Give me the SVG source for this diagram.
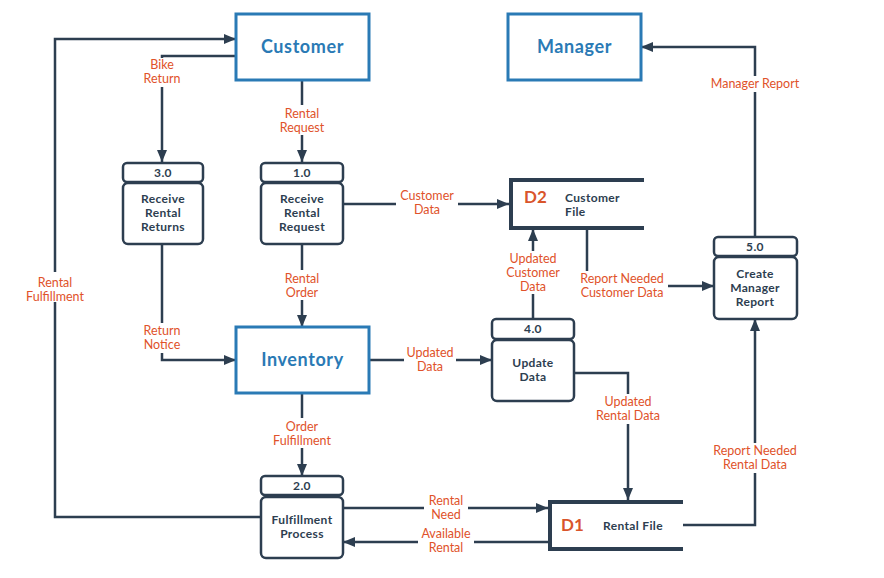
<svg xmlns="http://www.w3.org/2000/svg" width="884" height="578" viewBox="0 0 884 578">
<defs>
<marker id="arr" viewBox="0 0 12 10" refX="12" refY="5" markerWidth="12" markerHeight="10" markerUnits="userSpaceOnUse" orient="auto">
<path d="M0,0 L12,5 L0,10 Z" fill="#2d3e50"/>
</marker>
<style>
.ent{fill:#fff;stroke:#2a7ab5;stroke-width:3}
.entt{font-family:Lato,"Open Sans",sans-serif;font-weight:bold;font-size:18px;letter-spacing:0.6px;fill:#2a7ab5;text-anchor:middle}
.proc{fill:#fff;stroke:#2d3e50;stroke-width:2.5}
.pt{font-family:Lato,"Open Sans",sans-serif;font-weight:bold;font-size:12px;letter-spacing:0.35px;fill:#2d3e50;text-anchor:middle}
.st{fill:none;stroke:#2d3e50;stroke-width:4}
.sid{font-family:Lato,"Open Sans",sans-serif;font-weight:bold;font-size:17px;fill:#d9552b}
.ln{fill:none;stroke:#2d3e50;stroke-width:2.5}
.lb{font-family:Lato,"Open Sans",sans-serif;font-size:12.5px;fill:#e0522a;text-anchor:middle}
.bg{fill:#fff}
</style>
</defs>
<rect width="884" height="578" fill="#fff"/>
<g id="connectors">
<path class="ln" d="M261,517 H55 V39 H236" marker-end="url(#arr)"/>
<path class="ln" d="M236,56 H162 V162" marker-end="url(#arr)"/>
<path class="ln" d="M302,80 V162" marker-end="url(#arr)"/>
<path class="ln" d="M343,204 H509" marker-end="url(#arr)"/>
<path class="ln" d="M302,245 V327" marker-end="url(#arr)"/>
<path class="ln" d="M162,245 V360 H236" marker-end="url(#arr)"/>
<path class="ln" d="M369,360 H492" marker-end="url(#arr)"/>
<path class="ln" d="M302,393 V476" marker-end="url(#arr)"/>
<path class="ln" d="M343,508 H548" marker-end="url(#arr)"/>
<path class="ln" d="M548,542 H343" marker-end="url(#arr)"/>
<path class="ln" d="M574,373 H628 V500" marker-end="url(#arr)"/>
<path class="ln" d="M533,319 V229" marker-end="url(#arr)"/>
<path class="ln" d="M587,229 V286 H714" marker-end="url(#arr)"/>
<path class="ln" d="M755,236 V47 H641" marker-end="url(#arr)"/>
<path class="ln" d="M681,525 H755 V319" marker-end="url(#arr)"/>
<g>
<rect class="bg" x="20" y="272" width="70" height="30"/>
<text class="lb" x="55" y="287">Rental</text><text class="lb" x="55" y="301">Fulfillment</text>
<rect class="bg" x="140" y="58" width="46" height="29"/>
<text class="lb" x="162" y="69">Bike</text><text class="lb" x="162" y="83">Return</text>
<rect class="bg" x="276" y="105" width="52" height="30"/>
<text class="lb" x="302" y="118">Rental</text><text class="lb" x="302" y="132">Request</text>
<rect class="bg" x="396" y="188" width="62" height="30"/>
<text class="lb" x="427" y="200">Customer</text><text class="lb" x="427" y="214">Data</text>
<rect class="bg" x="280" y="270" width="44" height="30"/>
<text class="lb" x="302" y="283">Rental</text><text class="lb" x="302" y="297">Order</text>
<rect class="bg" x="140" y="323" width="46" height="30"/>
<text class="lb" x="162" y="335">Return</text><text class="lb" x="162" y="349">Notice</text>
<rect class="bg" x="404" y="344" width="52" height="30"/>
<text class="lb" x="430" y="357">Updated</text><text class="lb" x="430" y="371">Data</text>
<rect class="bg" x="272" y="418" width="60" height="30"/>
<text class="lb" x="302" y="431">Order</text><text class="lb" x="302" y="445">Fulfillment</text>
<rect class="bg" x="424" y="494" width="44" height="28"/>
<text class="lb" x="446" y="505">Rental</text><text class="lb" x="446" y="519">Need</text>
<rect class="bg" x="418" y="525" width="56" height="30"/>
<text class="lb" x="446" y="538">Available</text><text class="lb" x="446" y="552">Rental</text>
<rect class="bg" x="594" y="394" width="68" height="30"/>
<text class="lb" x="628" y="406">Updated</text><text class="lb" x="628" y="420">Rental Data</text>
<rect class="bg" x="503" y="251" width="60" height="43"/>
<text class="lb" x="533" y="263">Updated</text><text class="lb" x="533" y="277">Customer</text><text class="lb" x="533" y="291">Data</text>
<rect class="bg" x="578" y="271" width="90" height="30"/>
<text class="lb" x="622" y="283">Report Needed</text><text class="lb" x="622" y="297">Customer Data</text>
<rect class="bg" x="708" y="76" width="94" height="16"/>
<text class="lb" x="755" y="88">Manager Report</text>
<rect class="bg" x="710" y="443" width="90" height="30"/>
<text class="lb" x="755" y="455">Report Needed</text><text class="lb" x="755" y="469">Rental Data</text>
</g>
</g>
<g id="customer">
<rect class="ent" x="236" y="14" width="133" height="66"/>
<text class="entt" x="302.5" y="53">Customer</text>
</g>
<g id="manager">
<rect class="ent" x="508" y="14" width="133" height="66"/>
<text class="entt" x="574.5" y="53">Manager</text>
</g>
<g id="inventory">
<rect class="ent" x="236" y="327" width="133" height="66"/>
<text class="entt" x="302.5" y="366">Inventory</text>
</g>
<g id="p3">
<rect class="proc" x="123" y="163" width="80" height="19" rx="4"/>
<rect class="proc" x="123" y="183" width="80" height="61" rx="5"/>
<text class="pt" x="163" y="177">3.0</text>
<text class="pt" x="163" y="203">Receive</text><text class="pt" x="163" y="217">Rental</text><text class="pt" x="163" y="231">Returns</text>
</g>
<g id="p1">
<rect class="proc" x="261" y="163" width="82" height="19" rx="4"/>
<rect class="proc" x="261" y="183" width="82" height="61" rx="5"/>
<text class="pt" x="302" y="177">1.0</text>
<text class="pt" x="302" y="203">Receive</text><text class="pt" x="302" y="217">Rental</text><text class="pt" x="302" y="231">Request</text>
</g>
<g id="p2">
<rect class="proc" x="261" y="476" width="82" height="19" rx="4"/>
<rect class="proc" x="261" y="497" width="82" height="61" rx="5"/>
<text class="pt" x="302" y="490">2.0</text>
<text class="pt" x="302" y="524">Fulfillment</text><text class="pt" x="302" y="538">Process</text>
</g>
<g id="p4">
<rect class="proc" x="492" y="319" width="82" height="20" rx="4"/>
<rect class="proc" x="492" y="340" width="82" height="61" rx="5"/>
<text class="pt" x="533" y="333">4.0</text>
<text class="pt" x="533" y="367">Update</text><text class="pt" x="533" y="381">Data</text>
</g>
<g id="p5">
<rect class="proc" x="714" y="237" width="83" height="19" rx="4"/>
<rect class="proc" x="714" y="257" width="83" height="62" rx="5"/>
<text class="pt" x="755" y="251">5.0</text>
<text class="pt" x="755" y="278">Create</text><text class="pt" x="755" y="292">Manager</text><text class="pt" x="755" y="306">Report</text>
</g>
<g id="d2">
<rect x="511" y="180" width="133" height="48" fill="#fff"/>
<path class="st" d="M644,180 H511 V228 H644"/>
<text class="sid" x="524" y="203">D2</text>
<text class="pt" x="565" y="202" style="text-anchor:start">Customer</text>
<text class="pt" x="565" y="216" style="text-anchor:start">File</text>
</g>
<g id="d1">
<rect x="550" y="502" width="133" height="47" fill="#fff"/>
<path class="st" d="M683,502 H550 V549 H683"/>
<text class="sid" x="561" y="531">D1</text>
<text class="pt" x="603" y="530" style="text-anchor:start">Rental File</text>
</g>
</svg>
